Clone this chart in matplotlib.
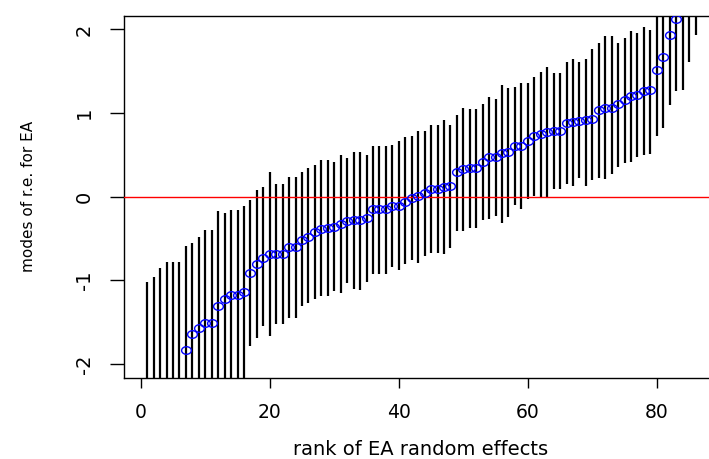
import numpy as np
import matplotlib
matplotlib.use("Agg")
import matplotlib.pyplot as plt
from matplotlib.path import Path

# conditional modes of the EA random effects, sorted, with interval ends
modes = [-2.60, -2.50, -2.45, -2.40, -2.35, -2.30, -1.83, -1.64, -1.57, -1.51,
         -1.51, -1.31, -1.22, -1.18, -1.18, -1.14, -0.91, -0.80, -0.73, -0.69,
         -0.69, -0.69, -0.60, -0.60, -0.52, -0.48, -0.42, -0.39, -0.38, -0.36,
         -0.33, -0.29, -0.28, -0.28, -0.25, -0.15, -0.15, -0.15, -0.11, -0.11,
         -0.06, -0.01, 0.01, 0.05, 0.09, 0.09, 0.12, 0.13, 0.29, 0.33,
         0.34, 0.34, 0.42, 0.47, 0.47, 0.52, 0.53, 0.60, 0.60, 0.66,
         0.73, 0.75, 0.77, 0.79, 0.79, 0.88, 0.89, 0.90, 0.92, 0.93,
         1.04, 1.06, 1.06, 1.11, 1.16, 1.20, 1.21, 1.26, 1.27, 1.51,
         1.67, 1.93, 2.12, 2.30, 2.50, 2.90]

lower = [-3.40, -3.30, -3.30, -3.20, -3.20, -3.10, -3.08, -2.75, -2.66, -2.62,
         -2.62, -2.44, -2.24, -2.20, -2.20, -2.20, -1.79, -1.69, -1.55, -1.67,
         -1.52, -1.52, -1.45, -1.45, -1.31, -1.27, -1.22, -1.19, -1.19, -1.13,
         -1.15, -1.03, -1.10, -1.11, -1.02, -0.92, -0.92, -0.92, -0.84, -0.87,
         -0.80, -0.76, -0.79, -0.71, -0.67, -0.67, -0.69, -0.61, -0.41, -0.41,
         -0.38, -0.37, -0.28, -0.27, -0.23, -0.32, -0.24, -0.10, -0.15, -0.03,
         0.01, -0.01, -0.02, 0.09, 0.09, 0.15, 0.13, 0.22, 0.13, 0.20,
         0.22, 0.21, 0.27, 0.35, 0.40, 0.42, 0.48, 0.50, 0.51, 0.73,
         0.82, 1.10, 1.26, 1.28, 1.61, 1.93]

upper = [-1.02, -0.96, -0.85, -0.78, -0.78, -0.78, -0.59, -0.55, -0.48, -0.40,
         -0.40, -0.17, -0.20, -0.16, -0.16, -0.11, -0.04, 0.08, 0.11, 0.29,
         0.15, 0.15, 0.24, 0.24, 0.29, 0.34, 0.38, 0.44, 0.44, 0.42,
         0.50, 0.46, 0.54, 0.54, 0.50, 0.60, 0.60, 0.60, 0.62, 0.66,
         0.71, 0.73, 0.78, 0.79, 0.86, 0.86, 0.92, 0.86, 0.98, 1.06,
         1.05, 1.05, 1.11, 1.19, 1.17, 1.34, 1.30, 1.31, 1.36, 1.36,
         1.43, 1.49, 1.55, 1.48, 1.48, 1.61, 1.65, 1.61, 1.65, 1.76,
         1.84, 1.92, 1.92, 1.84, 1.90, 1.98, 1.96, 2.03, 1.99, 2.29,
         2.53, 2.77, 2.99, 3.10, 3.40, 3.90]

rank = list(range(1, len(modes) + 1))
x_ticks = [0, 20, 40, 60, 80]
y_ticks = [-2, -1, 0, 1, 2]

plt.rcParams["font.family"] = ["DejaVu Sans"]
plt.rcParams["axes.unicode_minus"] = False

W, H = 709, 459
fig = plt.figure(figsize=(W / 100, H / 100), dpi=100)
# plot region runs past the right edge like the source picture
ax = fig.add_axes([124 / W, 1 - 377.7 / H, 627 / W, 362 / H])

ax.vlines(rank, lower, upper, colors="black", linewidth=1.6, zorder=2)
ax.axhline(0, color="red", linewidth=1.0, zorder=3)

# R output was stretched sideways, so circles look like ellipses
t = np.linspace(0, 2 * np.pi, 60)
ellipse = Path(np.column_stack([np.cos(t), 0.78 * np.sin(t)]))
ax.plot(rank, modes, linestyle="none", marker=ellipse, markersize=7.0,
        markerfacecolor="none", markeredgecolor="blue", markeredgewidth=1.0,
        zorder=4)

ax.set_xlim(-2.6, 94.6)
ax.set_ylim(-2.163, 2.163)
ax.set_xticks(x_ticks)
ax.set_yticks(y_ticks)

for s in ax.spines.values():
    s.set_linewidth(1.0)
    s.set_color("black")

ax.tick_params(axis="x", direction="out", length=7.5, width=1.0, pad=11,
               labelsize=13.5)
ax.tick_params(axis="y", direction="out", length=10, width=1.0, pad=11.7,
               labelsize=14, labelrotation=90)
for lab in ax.get_yticklabels():
    lab.set_va("center")

fig.text(421 / W, 4 / H, "rank of EA random effects", fontsize=14,
         ha="center", va="baseline")
fig.text(33.5 / W, 1 - 196.7 / H, "modes of r.e. for EA", fontsize=11,
         rotation=90, rotation_mode="anchor", ha="center", va="baseline")

fig.savefig("out.png", dpi=100)
